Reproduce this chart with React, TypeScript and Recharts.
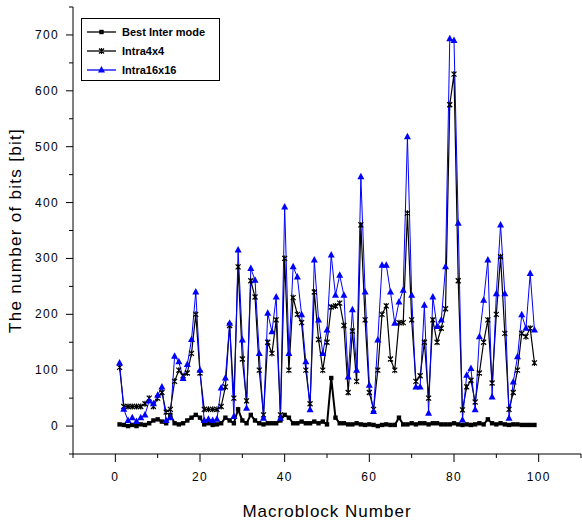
import React from "react";
import { Legend, Line, LineChart, XAxis, YAxis } from "recharts";

const macroblocks = Array.from({ length: 99 }, (_, i) => i + 1);

const bestInter = [
	3, 2, 0, 2, 0, 3, 2, 5, 10, 12, 8, 5, 20, 5, 3, 5, 10, 15, 20, 15,
	3, 5, 2, 3, 5, 15, 10, 5, 30, 10, 5, 20, 10, 5, 3, 5, 5, 5, 10, 20,
	15, 5, 5, 8, 5, 5, 8, 5, 8, 3, 86, 15, 5, 5, 3, 3, 5, 3, 2, 3,
	2, 0, 2, 3, 2, 2, 15, 3, 3, 5, 3, 5, 5, 3, 5, 5, 3, 3, 3, 5,
	3, 2, 3, 2, 3, 5, 3, 12, 5, 3, 5, 3, 2, 3, 3, 2, 2, 2, 2,
];

const intra4x4 = [
	105, 35, 35, 35, 35, 35, 40, 50, 35, 50, 60, 25, 30, 80, 100, 90, 95, 130, 200, 95,
	30, 30, 30, 30, 35, 70, 180, 50, 285, 120, 45, 260, 231, 100, 20, 150, 130, 190, 20, 300,
	100, 230, 200, 185, 100, 40, 240, 155, 100, 150, 213, 215, 220, 180, 60, 170, 80, 360, 190, 60,
	30, 100, 200, 215, 120, 100, 185, 185, 381, 190, 80, 90, 150, 50, 190, 150, 175, 210, 575, 630,
	260, 29, 70, 82, 43, 95, 150, 190, 77, 200, 303, 166, 30, 60, 100, 166, 160, 175, 113,
];

const intra16x16 = [
	113, 30, 10, 15, 8, 15, 20, 45, 40, 55, 70, 10, 15, 125, 115, 85, 110, 155, 240, 100,
	10, 12, 10, 12, 68, 86, 184, 17, 315, 154, 32, 282, 261, 130, 14, 202, 169, 231, 14, 392,
	130, 285, 267, 199, 115, 29, 297, 190, 130, 172, 306, 234, 270, 234, 88, 208, 100, 446, 240, 73,
	26, 154, 288, 288, 240, 184, 222, 243, 518, 234, 70, 70, 216, 23, 231, 178, 190, 285, 693, 690,
	363, 11, 91, 103, 29, 160, 225, 297, 52, 237, 360, 237, 14, 79, 124, 199, 175, 273, 172,
];

const xTicks = [-10, 0, 10, 20, 30, 40, 50, 60, 70, 80, 90, 100, 110];
const yTicks = [-50, 0, 50, 100, 150, 200, 250, 300, 350, 400, 450, 500, 550, 600, 650, 700, 750];

const data = macroblocks.map((n, i) => ({
	n,
	inter: bestInter[i],
	i4: intra4x4[i],
	i16: intra16x16[i],
}));

const tickFont = {
	fontFamily: "'Liberation Sans', Arial, sans-serif",
	fontSize: 12,
	letterSpacing: 1.3,
};

const isMajorX = (v: number) => v >= 0 && v <= 100 && v % 20 === 0;
const isMajorY = (v: number) => v >= 0 && v <= 700 && v % 100 === 0;

const BottomTick = ({ x, y, payload }: any) => {
	const major = isMajorX(payload.value);
	return (
		<g>
			<line x1={x} x2={x} y1={y} y2={y + (major ? 8 : 4)} stroke="#000" />
			{major && (
				<text x={x} y={y + 27} textAnchor="middle" fill="#000" style={tickFont}>
					{payload.value}
				</text>
			)}
		</g>
	);
};

const TopTick = ({ x, y, payload }: any) => {
	const major = isMajorX(payload.value);
	return <line x1={x} x2={x} y1={y} y2={y + (major ? 8 : 4)} stroke="#000" />;
};

const LeftTick = ({ x, y, payload }: any) => {
	const major = isMajorY(payload.value);
	return (
		<g>
			<line x1={x} x2={x - (major ? 7 : 4)} y1={y} y2={y} stroke="#000" />
			{major && (
				<text x={x - 14} y={y + 4} textAnchor="end" fill="#000" style={tickFont}>
					{payload.value}
				</text>
			)}
		</g>
	);
};

const RightTick = ({ x, y, payload }: any) => {
	const major = isMajorY(payload.value);
	return <line x1={x} x2={x - (major ? 7 : 4)} y1={y} y2={y} stroke="#000" />;
};

const SquareDot = ({ cx, cy }: any) => (
	<rect x={cx - 2.2} y={cy - 2.2} width={4.4} height={4.4} fill="#000" />
);

const StarDot = ({ cx, cy }: any) => (
	<path
		d={`M${cx - 2.5},${cy - 2.5}L${cx + 2.5},${cy + 2.5}M${cx + 2.5},${cy - 2.5}L${cx - 2.5},${cy + 2.5}M${cx},${cy - 3}L${cx},${cy + 3}`}
		stroke="#000"
		strokeWidth={1.2}
	/>
);

const TriangleDot = ({ cx, cy }: any) => (
	<path
		d={`M${cx},${cy - 4}L${cx + 3.5},${cy + 2.5}L${cx - 3.5},${cy + 2.5}Z`}
		fill="#0000ff"
	/>
);

const legendRows = [
	{ name: "Best Inter mode", color: "#000", Dot: SquareDot },
	{ name: "Intra4x4", color: "#000", Dot: StarDot },
	{ name: "Intra16x16", color: "#0000ff", Dot: TriangleDot },
];

const LegendBox = () => (
	<svg width={140} height={64}>
		<rect x={0.5} y={0.5} width={138} height={62} fill="#fff" stroke="#000" />
		{legendRows.map((row, i) => {
			const cy = 14 + i * 19;
			return (
				<g key={row.name}>
					<line x1={6} x2={35} y1={cy} y2={cy} stroke={row.color} strokeWidth={1.3} />
					<row.Dot cx={20.5} cy={cy} />
					<text
						x={41}
						y={cy + 4}
						fill="#000"
						style={{
							fontFamily: "'Liberation Sans', Arial, sans-serif",
							fontSize: 11,
							fontWeight: "bold",
						}}
					>
						{row.name}
					</text>
				</g>
			);
		})}
	</svg>
);

export default function App() {
	return (
		<div
			style={{
				position: "absolute",
				left: 0,
				top: 0,
				width: 582,
				height: 525,
				background: "#fff",
				overflow: "hidden",
			}}
		>
			<LineChart
				width={582}
				height={525}
				data={data}
				margin={{ top: 7, right: 1, bottom: 41, left: 13 }}
			>
				<XAxis
					dataKey="n"
					type="number"
					domain={[-10, 110]}
					ticks={xTicks}
					interval={0}
					height={30}
					tickSize={0}
					tickMargin={0}
					tickLine={false}
					axisLine={{ stroke: "#000" }}
					tick={BottomTick}
					label={{
						value: "Macroblock Number",
						position: "insideBottom",
						offset: -33,
						fill: "#000",
						style: {
							fontFamily: "'Liberation Sans', Arial, sans-serif",
							fontSize: 17,
							letterSpacing: 1,
						},
					}}
				/>
				<XAxis
					xAxisId="top"
					dataKey="n"
					type="number"
					orientation="top"
					domain={[-10, 110]}
					ticks={xTicks}
					interval={0}
					height={0}
					tickSize={0}
					tickMargin={0}
					tickLine={false}
					axisLine={{ stroke: "#000" }}
					tick={TopTick}
				/>
				<YAxis
					type="number"
					domain={[-50, 750]}
					ticks={yTicks}
					interval={0}
					width={60}
					tickSize={0}
					tickMargin={0}
					tickLine={false}
					axisLine={{ stroke: "#000" }}
					tick={LeftTick}
					label={{
						value: "The number of bits [bit]",
						angle: -90,
						position: "insideLeft",
						offset: 2,
						fill: "#000",
						style: {
							textAnchor: "middle",
							fontFamily: "'Liberation Sans', Arial, sans-serif",
							fontSize: 17,
							letterSpacing: 1.3,
						},
					}}
				/>
				<YAxis
					yAxisId="right"
					orientation="right"
					type="number"
					domain={[-50, 750]}
					ticks={yTicks}
					interval={0}
					width={0}
					tickSize={0}
					tickMargin={0}
					tickLine={false}
					axisLine={{ stroke: "#000" }}
					tick={RightTick}
				/>
				<Legend
					layout="vertical"
					align="center"
					verticalAlign="middle"
					wrapperStyle={{ left: 81, top: 18, width: 140, height: 64 }}
					content={() => <LegendBox />}
				/>
				<Line
					dataKey="inter"
					name="Best Inter mode"
					stroke="#000"
					strokeWidth={2}
					dot={(p: any) => <SquareDot key={p.index} cx={p.cx} cy={p.cy} />}
					isAnimationActive={false}
				/>
				<Line
					dataKey="i4"
					name="Intra4x4"
					stroke="#000"
					strokeWidth={1.2}
					dot={(p: any) => <StarDot key={p.index} cx={p.cx} cy={p.cy} />}
					isAnimationActive={false}
				/>
				<Line
					dataKey="i16"
					name="Intra16x16"
					stroke="#0000ff"
					strokeWidth={1}
					dot={(p: any) => <TriangleDot key={p.index} cx={p.cx} cy={p.cy} />}
					isAnimationActive={false}
				/>
			</LineChart>
		</div>
	);
}
